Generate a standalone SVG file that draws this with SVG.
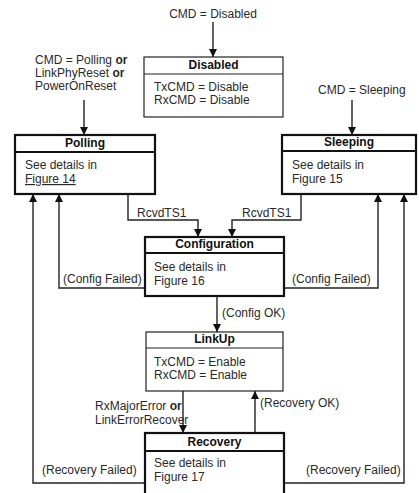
<svg xmlns="http://www.w3.org/2000/svg" width="419" height="493" viewBox="0 0 419 493">
<style>
text { font-family: "Liberation Sans", Arial, sans-serif; font-size: 12px; fill: #2a2a2a; }
.t { font-weight: bold; text-anchor: middle; fill: #111; }
.b { font-weight: bold; }
.thick { fill: #fff; stroke: #111; stroke-width: 2.2; }
.thin { fill: #fff; stroke: #222; stroke-width: 1.2; }
.div-thick { stroke: #111; stroke-width: 2; }
.div-thin { stroke: #222; stroke-width: 1.1; }
.c { fill: none; stroke: #222; stroke-width: 1.4; marker-end: url(#ah); }
</style>
<defs>
<marker id="ah" markerUnits="userSpaceOnUse" markerWidth="8" markerHeight="8" viewBox="0 0 8 8" refX="8" refY="4" orient="auto">
<path d="M0,0 L8,4 L0,8 z" fill="#111"/>
</marker>
</defs>
<rect width="419" height="493" fill="#fff"/>
<g id="connectors">
<path class="c" d="M213,22 V57"/>
<path class="c" d="M84,100 V135"/>
<path class="c" d="M352,100 V135"/>
<path class="c" d="M128,194 V220 H198 V237"/>
<path class="c" d="M301,194 V220 H232 V237"/>
<path class="c" d="M145,288 H59 V194"/>
<path class="c" d="M284,288 H378 V194"/>
<path class="c" d="M145,483 H33 V194"/>
<path class="c" d="M284,483 H404 V194"/>
<path class="c" d="M217,296 V332"/>
<path class="c" d="M183,391 V433"/>
<path class="c" d="M255,433 V391"/>
<text x="137" y="217">RcvdTS1</text>
<text x="242" y="217">RcvdTS1</text>
<text x="63" y="283">(Config Failed)</text>
<text x="292" y="283">(Config Failed)</text>
<text x="222" y="317">(Config OK)</text>
<text x="95" y="410">RxMajorError <tspan class="b">or</tspan></text>
<text x="95" y="424">LinkErrorRecover</text>
<text x="260" y="407">(Recovery OK)</text>
<text x="42" y="474">(Recovery Failed)</text>
<text x="306" y="474">(Recovery Failed)</text>
<text x="213" y="18" text-anchor="middle">CMD = Disabled</text>
<text x="35" y="64">CMD = Polling <tspan class="b">or</tspan></text>
<text x="35" y="77">LinkPhyReset <tspan class="b">or</tspan></text>
<text x="35" y="90">PowerOnReset</text>
<text x="318" y="94">CMD = Sleeping</text>
</g>
<g id="disabled">
<rect class="thin" x="144" y="57" width="139" height="60"/>
<line class="div-thin" x1="144" y1="74" x2="283" y2="74"/>
<text class="t" x="213.5" y="69">Disabled</text>
<text x="154" y="91">TxCMD = Disable</text>
<text x="154" y="104">RxCMD = Disable</text>
</g>
<g id="polling">
<rect class="thick" x="15" y="135" width="140" height="59"/>
<line class="div-thick" x1="15" y1="152" x2="155" y2="152"/>
<text class="t" x="85" y="147">Polling</text>
<text x="25" y="169">See details in</text>
<text x="25" y="183" text-decoration="underline">Figure 14</text>
</g>
<g id="sleeping">
<rect class="thick" x="282" y="135" width="134" height="59"/>
<line class="div-thick" x1="282" y1="151" x2="416" y2="151"/>
<text class="t" x="349" y="146">Sleeping</text>
<text x="292" y="169">See details in</text>
<text x="292" y="183">Figure 15</text>
</g>
<g id="configuration">
<rect class="thick" x="145" y="237" width="139" height="59"/>
<line class="div-thick" x1="145" y1="253" x2="284" y2="253"/>
<text class="t" x="214.5" y="248">Configuration</text>
<text x="154" y="271">See details in</text>
<text x="154" y="285">Figure 16</text>
</g>
<g id="linkup">
<rect class="thin" x="146" y="332" width="137" height="59"/>
<line class="div-thin" x1="146" y1="348" x2="283" y2="348"/>
<text class="t" x="214.5" y="343">LinkUp</text>
<text x="154" y="366">TxCMD = Enable</text>
<text x="154" y="379">RxCMD = Enable</text>
</g>
<g id="recovery">
<rect class="thick" x="145" y="433" width="139" height="70"/>
<line class="div-thick" x1="145" y1="451" x2="284" y2="451"/>
<text class="t" x="214.5" y="446">Recovery</text>
<text x="154" y="467">See details in</text>
<text x="154" y="481">Figure 17</text>
</g>
</svg>
